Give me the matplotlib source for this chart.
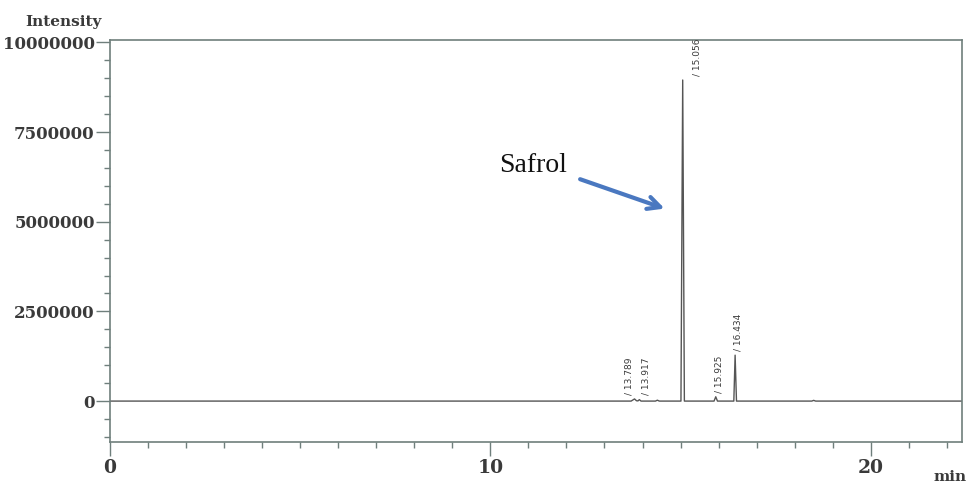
import numpy as np
import matplotlib.pyplot as plt
from matplotlib.ticker import MultipleLocator

# chromatogram trace (min, intensity)
times = [0, 13.70, 13.789, 13.84, 13.88, 13.917, 13.96, 14.34, 14.39, 14.44,
         15.01, 15.056, 15.10, 15.88, 15.925, 15.97, 16.40, 16.434, 16.47,
         18.45, 18.50, 18.55, 22.4]
intensity = [0, 0, 60000, 10000, 5000, 40000, 0, 0, 25000, 0,
             0, 8950000, 0, 0, 120000, 0, 0, 1280000, 0,
             0, 20000, 0, 0]

peak_rt = [13.789, 13.917, 15.056, 15.925, 16.434]
peak_h = [60000, 40000, 8950000, 120000, 1280000]
peak_lbl = ["/ 13.789", "/ 13.917", "/ 15.056", "/ 15.925", "/ 16.434"]
peak_dx = [-4, 5, 10, 2, 2]

axis_col = "#6f7f7c"
text_col = "#3a3a3a"

fig = plt.figure(figsize=(9.66, 4.9), dpi=100)
ax = fig.add_axes([0.1139, 0.098, 0.882, 0.820])

ax.plot(times, intensity, color="#555555", lw=1.0)

for rt, h, lbl, dx in zip(peak_rt, peak_h, peak_lbl, peak_dx):
    ax.annotate(lbl, (rt, h), xytext=(dx, 3), textcoords="offset points",
                rotation=90, ha="center", va="bottom", fontsize=6.5,
                family=["Liberation Sans Narrow", "DejaVu Sans"],
                color=text_col)

ax.set_xlim(0, 22.4)
ax.set_ylim(-1140000, 10060000)

ax.set_xticks([0, 10, 20])
ax.set_xticks(np.arange(0, 23, 1), minor=True)
ax.set_xticklabels(["0", "10", "20"])
ax.yaxis.set_minor_locator(MultipleLocator(500000))
ax.set_yticks([0, 2500000, 5000000, 7500000, 10000000])
ax.set_yticklabels(["0", "2500000", "5000000", "7500000", "10000000"])

ax.tick_params(axis="both", which="major", direction="out", color=axis_col,
               width=1.0, length=10, labelcolor=text_col)
ax.tick_params(axis="both", which="minor", direction="out", color=axis_col,
               width=1.0, length=4)
ax.tick_params(axis="y", which="major", pad=1, labelsize=12)
ax.tick_params(axis="x", which="major", pad=2, labelsize=13.5)
for lab in ax.get_yticklabels() + ax.get_xticklabels():
    lab.set_family("DejaVu Serif")
    lab.set_weight("bold")

for sp in ax.spines.values():
    sp.set_color(axis_col)
    sp.set_linewidth(1.2)

fig.text(0.066, 0.955, "Intensity", ha="center", va="center", fontsize=11,
         family="DejaVu Serif", weight="bold", color=text_col)
fig.text(0.983, 0.012, "min", ha="center", va="bottom", fontsize=11,
         family="DejaVu Serif", weight="bold", color=text_col)

ax.text(11.13, 6570000, "Safrol", ha="center", va="center", fontsize=20,
        family="Liberation Serif", color="#111111")
ax.annotate("", xy=(14.65, 5340000), xytext=(12.29, 6210000),
            arrowprops=dict(arrowstyle="->,head_length=0.9,head_width=0.45",
                            color="#4a78c0", lw=3))

fig.savefig("out.png", dpi=100)
